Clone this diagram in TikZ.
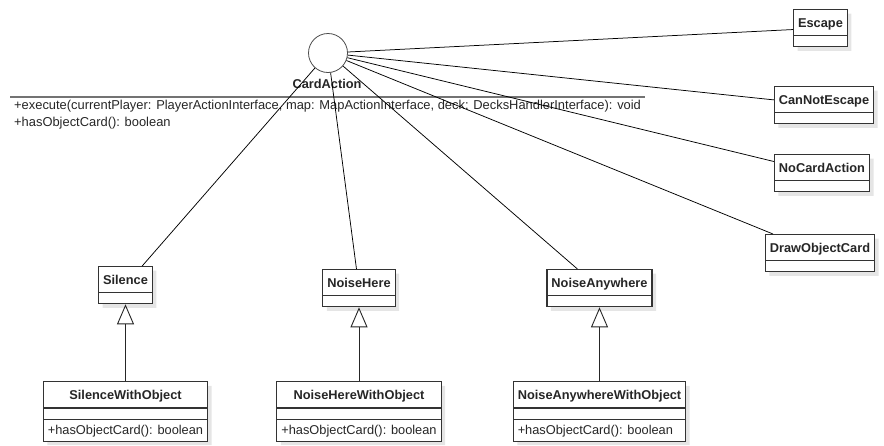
\documentclass[tikz,border=0pt]{standalone}
\usepackage{fontspec}
\setmainfont{Liberation Sans}
\usepackage{tikz}
\usetikzlibrary{shapes.multipart,shadows,positioning,arrows.meta}
\newcommand{\cnstrut}{\rule[-8pt]{0pt}{25pt}}
\newcommand{\cestrut}{\rule{0pt}{10pt}}
\newcommand{\costrut}{\rule[-6pt]{0pt}{21pt}}
\tikzstyle{classbox} = [rectangle split, rectangle split parts=2,
    rectangle split ignore empty parts=false, draw=black!80, line width=1.1pt,
    fill=white, inner xsep=4.5pt, inner ysep=0pt, text=black!85, anchor=north,
    font=\fontsize{12.8}{15}\selectfont\bfseries,
    drop shadow={shadow xshift=4pt, shadow yshift=-4pt, fill=black!10, opacity=1}]
\tikzstyle{objbox} = [classbox, rectangle split parts=3,
    rectangle split part align={center,center,left}]
\tikzstyle{assoc} = [draw=black, line width=0.75pt]
\tikzstyle{inherit} = [draw=black!85, line width=0.9pt,
    -{Triangle[open, length=20pt, width=17pt, fill=white]}]

\begin{document}
\begin{tikzpicture}[x=1pt, y=-1pt]
\useasboundingbox (0,0) rectangle (884,445);

% the interface
\node [circle, draw=black!70, fill=white, line width=0.8pt, minimum size=39pt,
    inner sep=0pt] (cardaction) at (328,53) {};
\node [font=\fontsize{12.8}{15}\selectfont\bfseries, text=black!85]
    (cardactionname) at (327,84) {CardAction};
\draw [black!55, line width=1.6pt] (10,97) -- (645,97);
\node [anchor=west, align=left, inner xsep=4pt, text=black!85,
    font=\fontsize{12.9}{17}\selectfont] (cardactionops) at (10,114.5) {%
    +execute(currentPlayer: PlayerActionInterface, map: MapActionInterface, deck: DecksHandlerInterface): void\\
    +hasObjectCard(): boolean};

% right column
\node [classbox] (escape) at (820.5,9) {\cnstrut Escape\nodepart{two}\cestrut};
\node [classbox] (cannotescape) at (824,86) {\cnstrut CanNotEscape\nodepart{two}\cestrut};
\node [classbox] (nocardaction) at (822,154) {\cnstrut NoCardAction\nodepart{two}\cestrut};
\node [classbox] (drawobjectcard) at (820,234) {\cnstrut DrawObjectCard\nodepart{two}\cestrut};

% bottom row
\node [classbox] (silence) at (125.5,266) {\cnstrut Silence\nodepart{two}\cestrut};
\node [classbox] (noisehere) at (359,269) {\cnstrut NoiseHere\nodepart{two}\cestrut};
\node [classbox] (noiseanywhere) at (599.5,269) {\cnstrut NoiseAnywhere\nodepart{two}\cestrut};

\node [objbox, below=77pt of silence] (silencewithobject) {%
    \cnstrut SilenceWithObject\nodepart{two}\cestrut
    \nodepart{three}\costrut\mdseries +hasObjectCard(): boolean};
\node [objbox, below=74pt of noisehere] (noiseherewithobject) {%
    \cnstrut NoiseHereWithObject\nodepart{two}\cestrut
    \nodepart{three}\costrut\mdseries +hasObjectCard(): boolean};
\node [objbox, below=74pt of noiseanywhere] (noiseanywherewithobject) {%
    \cnstrut NoiseAnywhereWithObject\nodepart{two}\cestrut
    \nodepart{three}\costrut\mdseries +hasObjectCard(): boolean};

\foreach \cls in {escape,cannotescape,nocardaction,drawobjectcard,silence,noisehere,noiseanywhere}
    \draw [assoc] (cardaction) -- (\cls);

\draw [inherit] (silencewithobject) -- (silence);
\draw [inherit] (noiseherewithobject) -- (noisehere);
\draw [inherit] (noiseanywherewithobject) -- (noiseanywhere);

\end{tikzpicture}
\end{document}
